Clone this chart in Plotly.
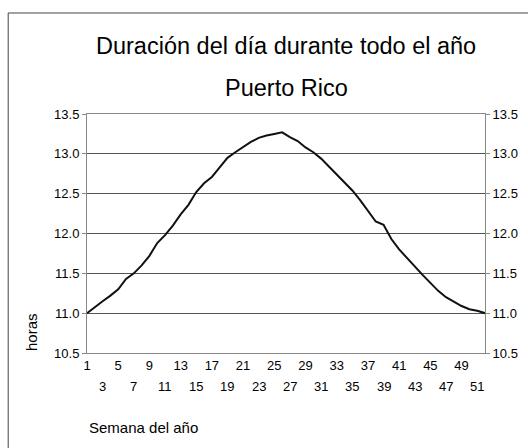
import plotly.graph_objects as go

weeks = list(range(1, 53))
hours = [11.00, 11.08, 11.15, 11.22, 11.30, 11.43, 11.50, 11.60, 11.72, 11.88,
         11.98, 12.10, 12.24, 12.36, 12.52, 12.63, 12.71, 12.83, 12.95, 13.02,
         13.09, 13.15, 13.20, 13.23, 13.25, 13.27, 13.21, 13.16, 13.08, 13.02,
         12.94, 12.84, 12.74, 12.63, 12.54, 12.42, 12.29, 12.15, 12.11, 11.93,
         11.80, 11.69, 11.59, 11.48, 11.38, 11.28, 11.20, 11.14, 11.09, 11.05,
         11.03, 11.00]
tick_weeks = list(range(1, 52, 2))
row1_weeks = tick_weeks[0::2]
row2_weeks = tick_weeks[1::2]
tick_text = [str(w) if w in row1_weeks else "" for w in tick_weeks]

title1 = "Duración del día durante todo el año"
title2 = "Puerto Rico"
ytitle = "horas"
xtitle = "Semana del año"

FONT = "Liberation Sans, Arial, sans-serif"

fig = go.Figure()
fig.add_trace(go.Scatter(x=weeks, y=hours, mode="lines",
                         line=dict(color="#111", width=2), showlegend=False))
fig.add_trace(go.Scatter(x=weeks, y=hours, mode="lines", yaxis="y2",
                         line=dict(color="rgba(0,0,0,0)", width=0),
                         showlegend=False, hoverinfo="skip"))

axis_common = dict(range=[10.5, 13.5], dtick=0.5, tick0=10.5, tickformat=".1f",
                   showline=True, linecolor="#888", linewidth=1,
                   ticks="outside", ticklen=4, tickcolor="#888",
                   tickfont=dict(family=FONT, size=13, color="#000"),
                   zeroline=False, fixedrange=True, automargin=False)

annotations = [
    dict(text=title1, xref="paper", yref="paper", x=0.5, y=1.2845,
         xanchor="center", yanchor="middle", showarrow=False,
         font=dict(family=FONT, size=23.5, color="#000")),
    dict(text=title2, xref="paper", yref="paper", x=0.5, y=1.109,
         xanchor="center", yanchor="middle", showarrow=False,
         font=dict(family=FONT, size=23.5, color="#000")),
    dict(text=ytitle, xref="paper", yref="paper", x=-0.138, y=0.088,
         xanchor="center", yanchor="middle", textangle=-90, showarrow=False,
         font=dict(family=FONT, size=15, color="#000")),
    dict(text=xtitle, xref="paper", yref="paper", x=0.0, y=-0.31,
         xanchor="left", yanchor="middle", showarrow=False,
         font=dict(family=FONT, size=15, color="#000")),
]
for w in row2_weeks:
    annotations.append(dict(text=str(w), xref="x", yref="paper", x=w, y=-0.142,
                            xanchor="center", yanchor="middle", showarrow=False,
                            font=dict(family=FONT, size=13, color="#000")))

fig.update_layout(
    width=528, height=448,
    margin=dict(l=87, r=43, t=114, b=95, autoexpand=False),
    paper_bgcolor="white", plot_bgcolor="white",
    font=dict(family=FONT, color="#000"),
    xaxis=dict(range=[1, 52], tickvals=tick_weeks, ticktext=tick_text,
               tickangle=0, automargin=False,
               showgrid=False, showline=True, linecolor="#888", linewidth=1,
               mirror=True, ticks="", zeroline=False,
               tickfont=dict(family=FONT, size=13, color="#000")),
    yaxis=dict(**axis_common, showgrid=True, gridcolor="#555", gridwidth=1, side="left"),
    yaxis2=dict(**axis_common, showgrid=False, overlaying="y", side="right"),
    showlegend=False,
    shapes=[
        dict(type="rect", xref="paper", yref="paper", x0=-0.198, x1=1.3,
             y0=-0.6, y1=1.4226, line=dict(color="#444", width=1),
             fillcolor="rgba(0,0,0,0)", layer="below"),
    ],
    annotations=annotations,
)

fig.write_html("out.html", config={"displayModeBar": False},
               post_script="document.body.style.margin='0';")
